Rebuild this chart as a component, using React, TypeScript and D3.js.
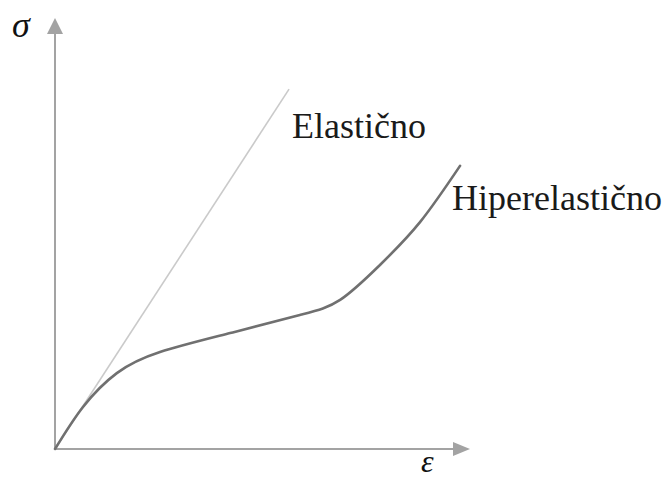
import React from "react";
import * as d3 from "d3";

// Strain (ε) and stress (σ) in arbitrary units
const hyperStrain = [0, 6.7, 14.9, 25.3, 42.2, 59.0, 68.7, 78.3, 88.0, 97.6];
const hyperStress = [0, 9.7, 17.6, 22.5, 26.9, 31.1, 34.6, 42.7, 52.7, 65.7];
const elasticStrain = [0, 56.4];
const elasticStress = [0, 83.5];
const seriesLabels = ["Elastično", "Hiperelastično"];
const axisLabels = ["σ", "ε"];

const W = 670;
const H = 480;

export default function App() {
  const x = d3.scaleLinear().domain([0, 100]).range([55, 470]);
  const y = d3.scaleLinear().domain([0, 100]).range([449, 18]);

  const line = d3
    .line<[number, number]>()
    .x((d) => x(d[0]))
    .y((d) => y(d[1]))
    .curve(d3.curveNatural);

  const straight = d3
    .line<[number, number]>()
    .x((d) => x(d[0]))
    .y((d) => y(d[1]));

  const hyper: [number, number][] = hyperStrain.map((v, i) => [v, hyperStress[i]]);
  const elastic: [number, number][] = elasticStrain.map((v, i) => [v, elasticStress[i]]);

  const x0 = x(0);
  const y0 = y(0);
  const xEnd = x(100);
  const yEnd = y(100);
  const axisColor = "#a3a3a3";

  return (
    <svg
      width={W}
      height={H}
      style={{ position: "absolute", left: 0, top: 0, background: "#fff" }}
      fontFamily="'Liberation Serif', 'Times New Roman', serif"
    >
      <rect x={0} y={0} width={W} height={H} fill="#fff" />
      {/* axes */}
      <line x1={x0} y1={y0} x2={x0} y2={yEnd + 14} stroke={axisColor} strokeWidth={2} />
      <line x1={x0} y1={y0} x2={xEnd - 16} y2={y0} stroke={axisColor} strokeWidth={2} />
      <path
        d={`M${x0},${yEnd} L${x0 - 8},${yEnd + 16} L${x0 + 8},${yEnd + 16} Z`}
        fill={axisColor}
      />
      <path
        d={`M${xEnd},${y0} L${xEnd - 17},${y0 - 7} L${xEnd - 17},${y0 + 7} Z`}
        fill={axisColor}
      />
      {/* elastic line */}
      <path d={straight(elastic) || ""} fill="none" stroke="#cacaca" strokeWidth={1.6} />
      {/* hyperelastic curve */}
      <path d={line(hyper) || ""} fill="none" stroke="#707070" strokeWidth={2.6} strokeLinecap="round" />
      {/* labels */}
      <text x={12} y={37} fontSize={36} fontStyle="italic" fill="#111">
        {axisLabels[0]}
      </text>
      <text x={421} y={472} fontSize={32} fontStyle="italic" fill="#111">
        {axisLabels[1]}
      </text>
      <text x={292} y={138} fontSize={36} fill="#1a1a1a">
        {seriesLabels[0]}
      </text>
      <text x={452} y={210} fontSize={36} fill="#1a1a1a">
        {seriesLabels[1]}
      </text>
    </svg>
  );
}
